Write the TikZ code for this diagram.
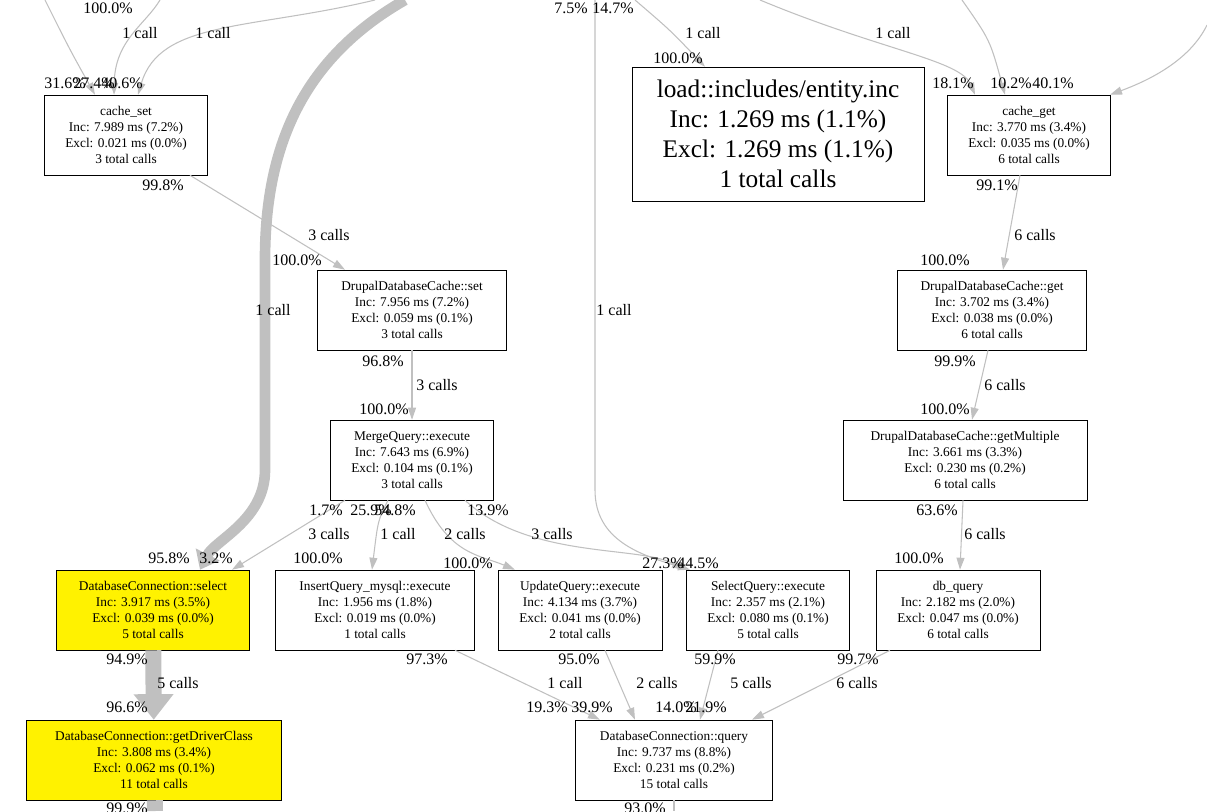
\documentclass[tikz,border=0pt]{standalone}
\usepackage{fontspec}
\setmainfont{LiberationSerif}[Extension=.ttf,UprightFont=*-Regular,BoldFont=*-Bold]
\usetikzlibrary{arrows.meta,positioning}
\definecolor{edgegray}{HTML}{C0C0C0}
\begin{document}
\begin{tikzpicture}[
x=0.75pt,y=-0.75pt,
Fn/.style={draw=black,thin,align=center,inner sep=1pt,minimum height=60pt,font=\fontsize{10}{12}\selectfont},
Hot/.style={Fn,fill=yellow},
Wd/.style={minimum width=#1*0.75pt},
Call/.style={draw=edgegray,line width=0.8pt,-{Triangle[length=9pt,width=6pt]}},
Big/.style={draw=edgegray,line width=#1,-{Triangle[length=1.6*#1,width=2.4*#1]}},
Lbl/.style={font=\fontsize{12}{13}\selectfont,inner sep=0pt}
]
\useasboundingbox (0,0) rectangle (1207,811);

% functions
\node[Fn,Wd=163] (cset) at (126,135) {cache\_set\\Inc: 7.989 ms (7.2\%)\\Excl: 0.021 ms (0.0\%)\\3 total calls};
\node[Fn,Wd=292,minimum height=100.5pt,font=\fontsize{19}{22.5}\selectfont] (entity) at (778,134) {load::includes/entity.inc\\Inc: 1.269 ms (1.1\%)\\Excl: 1.269 ms (1.1\%)\\1 total calls};
\node[Fn,Wd=163] (cget) at (1029,135) {cache\_get\\Inc: 3.770 ms (3.4\%)\\Excl: 0.035 ms (0.0\%)\\6 total calls};
\node[Fn,Wd=189] (dset) at (412,310) {DrupalDatabaseCache::set\\Inc: 7.956 ms (7.2\%)\\Excl: 0.059 ms (0.1\%)\\3 total calls};
\node[Fn,Wd=189] (dget) at (992,310) {DrupalDatabaseCache::get\\Inc: 3.702 ms (3.4\%)\\Excl: 0.038 ms (0.0\%)\\6 total calls};
\node[Fn,Wd=163] (merge) at (412,460) {MergeQuery::execute\\Inc: 7.643 ms (6.9\%)\\Excl: 0.104 ms (0.1\%)\\3 total calls};
\node[Fn,Wd=244] (dmulti) at (965,460) {DrupalDatabaseCache::getMultiple\\Inc: 3.661 ms (3.3\%)\\Excl: 0.230 ms (0.2\%)\\6 total calls};
\node[Hot,Wd=193] (select) at (153,610) {DatabaseConnection::select\\Inc: 3.917 ms (3.5\%)\\Excl: 0.039 ms (0.0\%)\\5 total calls};
\node[Fn,Wd=199] (insert) at (375,610) {InsertQuery\_mysql::execute\\Inc: 1.956 ms (1.8\%)\\Excl: 0.019 ms (0.0\%)\\1 total calls};
\node[Fn,Wd=164] (update) at (580,610) {UpdateQuery::execute\\Inc: 4.134 ms (3.7\%)\\Excl: 0.041 ms (0.0\%)\\2 total calls};
\node[Fn,Wd=163] (squery) at (768,610) {SelectQuery::execute\\Inc: 2.357 ms (2.1\%)\\Excl: 0.080 ms (0.1\%)\\5 total calls};
\node[Fn,Wd=164] (dbq) at (958,610) {db\_query\\Inc: 2.182 ms (2.0\%)\\Excl: 0.047 ms (0.0\%)\\6 total calls};
\node[Hot,Wd=255] (driver) at (154,760) {DatabaseConnection::getDriverClass\\Inc: 3.808 ms (3.4\%)\\Excl: 0.062 ms (0.1\%)\\11 total calls};
\node[Fn,Wd=197] (query) at (674,760) {DatabaseConnection::query\\Inc: 9.737 ms (8.8\%)\\Excl: 0.231 ms (0.2\%)\\15 total calls};

% callers outside the view
\coordinate (inA) at (45,0);
\coordinate (inB) at (160,0);
\coordinate (inC) at (375,0);
\coordinate (inD) at (405,0);
\coordinate (inE) at (595,0);
\coordinate (inF) at (635,0);
\coordinate (inG) at (760,0);
\coordinate (inH) at (962,0);
\coordinate (inI) at (1207,25);
\coordinate (outA) at (155,811);
\coordinate (outB) at (674,811);

% calls
\draw[Call] (inA) .. controls (70,50) .. (cset.north -| 95,0);
\draw[Call] (inB) .. controls (145,25) and (115,40) .. (cset.north -| 114,0);
\draw[Call] (inC) .. controls (250,30) and (160,20) .. (cset.north -| 138,0);
\draw[Big=8pt] (inD) .. controls (300,60) and (265,150) .. (265,260) -- (265,470) .. controls (265,520) and (215,540) .. (select.north -| 200,0);
\draw[Call] (inE) -- (595,490) .. controls (595,540) and (640,555) .. (squery.north -| 690,0);
\draw[Call] (inF) .. controls (670,30) .. (entity.north -| 705,0);
\draw[Call] (inG) .. controls (880,50) and (960,60) .. (cget.north -| 975,0);
\draw[Call] (inH) .. controls (990,40) .. (cget.north -| 1005,0);
\draw[Call] (inI) .. controls (1190,60) and (1150,80) .. (cget.north -| 1110,0);
\draw[Call] (cset.south -| 190,0) -- (dset.north -| 345,0);
\draw[Call] (cget.south -| 1020,0) -- (dget.north -| 1003,0);
\draw[Call] (dset) -- (merge);
\draw[Call] (dget.south -| 988,0) -- (dmulti.north -| 972,0);
\draw[Call] (merge.south -| 345,0) -- (select.north -| 232,0);
\draw[Call] (merge.south -| 388,0) .. controls (378,520) .. (insert.north -| 372,0);
\draw[Call] (merge.south -| 425,0) .. controls (450,555) and (480,555) .. (update.north -| 515,0);
\draw[Call] (merge.south -| 465,0) .. controls (530,560) and (640,545) .. (squery.north -| 684,0);
\draw[Call] (dmulti.south -| 963,0) -- (dbq.north -| 960,0);
\draw[Big=12pt] (select) -- (driver);
\draw[Call] (insert.south -| 455,0) -- (query.north -| 600,0);
\draw[Call] (update.south -| 605,0) -- (query.north -| 635,0);
\draw[Call] (squery.south -| 718,0) -- (query.north -| 700,0);
\draw[Call] (dbq.south -| 890,0) -- (query.north -| 752,0);
\draw[draw=edgegray,line width=12pt] (driver) -- (outA);
\draw[draw=edgegray,line width=0.8pt] (query) -- (outB);

% labels
\foreach \x/\y/\t in {
108/8/100.0\%, 140/33/1 call, 213/33/1 call, 65/83/31.6\%, 94/83/27.4\%, 122/83/40.6\%,
571/8/7.5\%, 613/8/14.7\%, 703/33/1 call, 678/58/100.0\%, 893/33/1 call,
953/83/18.1\%, 1011/83/10.2\%, 1053/83/40.1\%,
273/310/1 call, 614/310/1 call,
163/185/99.8\%, 329/235/3 calls, 297/260/100.0\%,
997/185/99.1\%, 1035/235/6 calls, 945/260/100.0\%,
383/361/96.8\%, 437/385/3 calls, 384/409/100.0\%,
955/361/99.9\%, 1005/385/6 calls, 945/409/100.0\%,
326/510/1.7\%, 371/510/25.9\%, 395/510/54.8\%, 488/510/13.9\%,
329/534/3 calls, 398/534/1 call, 465/534/2 calls, 552/534/3 calls,
169/558/95.8\%, 216/558/3.2\%, 318/558/100.0\%, 468/563/100.0\%, 663/563/27.3\%, 698/563/44.5\%,
937/510/63.6\%, 985/534/6 calls, 919/558/100.0\%,
127/659/94.9\%, 178/683/5 calls, 127/707/96.6\%,
427/659/97.3\%, 565/683/1 call, 547/707/19.3\%,
579/659/95.0\%, 657/683/2 calls, 592/707/39.9\%,
715/659/59.9\%, 751/683/5 calls, 676/707/14.0\%,
858/659/99.7\%, 857/683/6 calls, 706/707/21.9\%,
127/808/99.9\%, 645/808/93.0\%}
  \node[Lbl] at (\x,\y) {\t};
\end{tikzpicture}
\end{document}
